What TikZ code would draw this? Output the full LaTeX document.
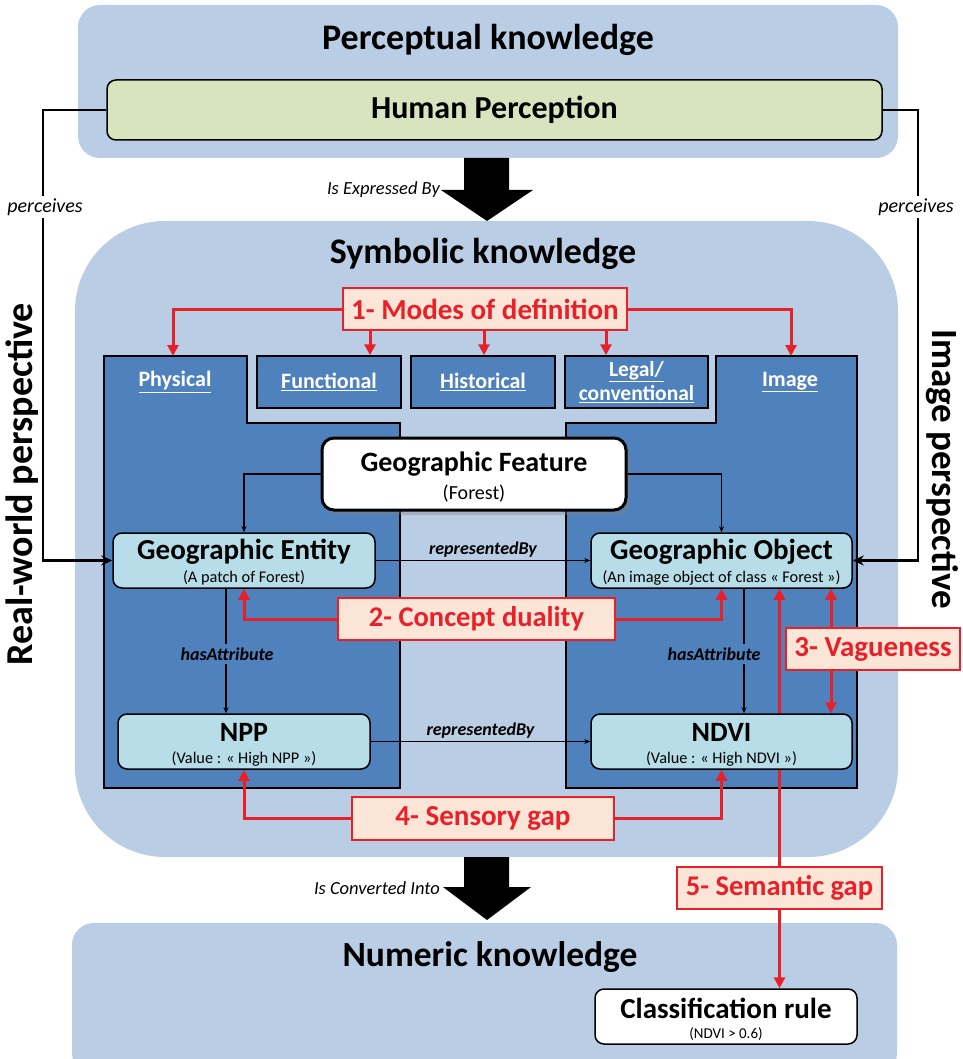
\documentclass[tikz,border=0pt]{standalone}
\usepackage{fontspec}
\setmainfont{Carlito}
\usetikzlibrary{arrows.meta,shadows,calc}
\definecolor{panel}{HTML}{B9CDE5}
\definecolor{colblue}{HTML}{4F81BD}
\definecolor{lcyan}{HTML}{B7DEE8}
\definecolor{lgreen}{HTML}{D7E4BD}
\definecolor{peach}{HTML}{FBE5D6}
\definecolor{myred}{HTML}{E8202A}
\newcommand\fsz[2]{\fontsize{#1}{#2}\selectfont}
\begin{document}
\begin{tikzpicture}[x=1pt,y=-1pt,
 col/.style={fill=colblue, draw=black, line width=1.5pt},
 cat/.style={font=\fsz{22}{25}\bfseries, text=white, align=center, inner sep=1pt},
 ent/.style={draw=black, line width=1.5pt, fill=lcyan, rounded corners=9pt, inner sep=0pt},
 wbox/.style={draw=black, line width=1.5pt, fill=white, rounded corners=9pt, inner sep=0pt},
 big/.style={font=\fsz{29}{32}\bfseries, inner sep=0pt},
 small/.style={font=\fsz{16.3}{18}\selectfont, inner sep=0pt},
 redbox/.style={draw=myred, line width=2.5pt, fill=peach, text=myred, font=\fsz{29}{32}\bfseries, inner sep=0pt},
 redarr/.style={draw=myred, line width=3pt, -{Triangle[length=11pt,width=11pt]}},
 thinarr/.style={draw=black, line width=1.2pt, -{Stealth[length=6pt,width=5pt]}},
 perc/.style={draw=black, line width=2.5pt, -{Stealth[length=11pt,width=10pt]}},
 rel/.style={font=\fsz{18}{20}\bfseries\itshape, inner sep=1pt},
 conv/.style={font=\fsz{18.5}{20}\itshape, inner sep=1pt},
 title/.style={font=\fsz{36}{40}\bfseries, inner sep=0pt},
 persp/.style={font=\fsz{38}{42}\bfseries, inner sep=0pt},
 bigarrow/.style={fill=black},
]
\useasboundingbox (0,0) rectangle (962,1059);
\fill[white] (0,0) rectangle (962,1059);

% panels
\fill[panel, rounded corners=22pt] (78,5) rectangle (898,158);
\fill[panel, rounded corners=90pt] (75,221) rectangle (898,857);
\fill[panel, rounded corners=22pt] (72,923) rectangle (897,1075);

\node[title] (tperc) at (488,40) {Perceptual knowledge};
\node[title] (tsym) at (483,254) {Symbolic knowledge};
\node[title, font=\fsz{35.5}{40}\bfseries] (tnum) at (490,957) {Numeric knowledge};

% human perception
\node[draw=black, line width=1.5pt, fill=lgreen, rounded corners=9pt, minimum width=775pt, minimum height=60pt, inner sep=0pt, font=\fsz{32}{36}\bfseries] (hp) at (494.5,110) {Human Perception};

% big arrows
\fill[bigarrow] (464,158) -- (509,158) -- (509,190) -- (533,190) -- (487,221) -- (441,190) -- (464,190) -- cycle;
\fill[bigarrow] (464,857) -- (509,857) -- (509,887) -- (531,887) -- (487,920) -- (443,887) -- (464,887) -- cycle;
\node[conv, anchor=east] (ieb) at (441,190) {Is Expressed By};
\node[conv, anchor=east] (ici) at (441,888) {Is Converted Into};

% perspectives
\node[persp, rotate=90] (rwp) at (22,484) {Real-world perspective};
\node[persp, rotate=-90, font=\fsz{37}{42}\bfseries] (ip) at (942,469) {Image perspective};

% columns
\path[col] (104,356) -- (247,356) -- (247,423) -- (400,423) -- (400,788) -- (104,788) -- cycle;
\path[col] (716,356) -- (857,356) -- (857,788) -- (566,788) -- (566,423) -- (716,423) -- cycle;
\node[col, cat, minimum width=144pt, minimum height=52pt] (fun) at (329,382) {\underline{Functional}};
\node[col, cat, minimum width=144pt, minimum height=52pt] (his) at (483,382) {\underline{Historical}};
\node[col, cat, minimum width=143pt, minimum height=52pt, font=\fsz{21.5}{24}\bfseries] (leg) at (636.5,382) {\underline{Legal/}\\\underline{conventional}};
\node[cat] (phys) at (175,382) {\underline{Physical}};
\node[cat] (img) at (790,382) {\underline{Image}};
\coordinate (physTop) at (173,356);
\coordinate (imgTop) at (791,356);

% modes of definition
\node[redbox, minimum width=284pt, minimum height=42pt] (modes) at (485,309) {1- Modes of definition};
\coordinate (a1) at (370,0);
\coordinate (a2) at (484,0);
\coordinate (a3) at (606,0);
\draw[redarr] (modes.west) -| (physTop);
\draw[redarr] (modes.east) -| (imgTop);
\draw[redarr] (modes.south -| a1) -- (fun.north -| a1);
\draw[redarr] (modes.south -| a2) -- (his.north -| a2);
\draw[redarr] (modes.south -| a3) -- (leg.north -| a3);

% geographic feature
\node[wbox, line width=3pt, rounded corners=12pt, minimum width=304pt, minimum height=72pt, drop shadow={shadow xshift=4pt, shadow yshift=-5pt, opacity=0.35}] (gf) at (474,474) {};
\node[big, font=\fsz{28}{31}\bfseries] (gft) at ($(gf.center)+(0,-10)$) {Geographic Feature};
\node[small, font=\fsz{20}{22}\selectfont] (gfs) at ($(gf.center)+(0,20)$) {(Forest)};

% entities
\node[ent, minimum width=262pt, minimum height=55pt] (ge) at (244,560.5) {};
\node[big] (get) at ($(ge.center)+(0,-9)$) {Geographic Entity};
\node[small] (ges) at ($(ge.center)+(0,17)$) {(A patch of Forest)};

\node[ent, minimum width=261pt, minimum height=55pt] (go) at (721.5,560.5) {};
\node[big] (got) at ($(go.center)+(0,-9)$) {Geographic Object};
\node[small] (gos) at ($(go.center)+(0,17)$) {(An image object of class « Forest »)};

% connectors from feature
\draw[thinarr] (gf.west) -| (ge.north);
\draw[thinarr] (gf.east) -| (go.north);

% perceives
\coordinate (lc) at (43,110);
\coordinate (rc) at (918,110);
\draw[perc] (hp.west) -- (lc) |- (ge.west);
\draw[perc] (hp.east) -- (rc) |- (go.east);
\node[conv, font=\fsz{20}{22}\itshape, fill=white, inner sep=3pt] (pl) at (45,207) {perceives};
\node[conv, font=\fsz{20}{22}\itshape, fill=white, inner sep=3pt] (pr) at (916,207) {perceives};

% semantic gap line (behind NDVI)
\node[redbox, minimum width=205pt, minimum height=42pt, font=\fsz{28.5}{31}\bfseries] (semg) at (779.5,888) {5- Semantic gap};
\draw[redarr] (semg.north) -- (semg.north |- go.south);

% attributes
\node[ent, minimum width=252pt, minimum height=55pt] (npp) at (244,741.5) {};
\node[big, font=\fsz{28}{31}\bfseries] (nppt) at ($(npp.center)+(0,-9)$) {NPP};
\node[small] (npps) at ($(npp.center)+(0,17)$) {(Value : « High NPP »)};

\node[ent, minimum width=261pt, minimum height=55pt] (ndvi) at (721.5,741.5) {};
\node[big, font=\fsz{28}{31}\bfseries] (ndvit) at ($(ndvi.center)+(0,-9)$) {NDVI};
\node[small] (ndvis) at ($(ndvi.center)+(0,17)$) {(Value : « High NDVI »)};

% relations
\draw[thinarr] (ge.east) -- (go.west) node[rel, midway, above=2pt] (rb1) {representedBy};
\draw[thinarr] (npp.east) -- (ndvi.west) node[rel, midway, above=2pt] (rb2) {representedBy};
\coordinate (h1) at (226,0);
\coordinate (h2) at (744,0);
\draw[thinarr] (ge.south -| h1) -- (npp.north -| h1);
\draw[thinarr] (go.south -| h2) -- (ndvi.north -| h2);
\node[rel, fill=colblue, inner sep=4pt] (ha1) at (227,654) {hasAttribute};
\node[rel, fill=colblue, inner sep=4pt] (ha2) at (714,654) {hasAttribute};

% concept duality
\node[redbox, minimum width=277pt, minimum height=42pt, font=\fsz{28.5}{31}\bfseries] (cd) at (476.5,619) {2- Concept duality};
\draw[redarr] (cd.west) -| (ge.south);
\draw[redarr] (cd.east) -| (go.south);

% vagueness
\node[redbox, minimum width=174pt, minimum height=42pt] (vag) at (873,649) {3- Vagueness};
\coordinate (vx) at (831,0);
\draw[redarr] (vag.north -| vx) -- (go.south -| vx);
\draw[redarr] (vag.south -| vx) -- (ndvi.north -| vx);

% sensory gap
\node[redbox, minimum width=262pt, minimum height=43pt] (sg) at (483,818.5) {4- Sensory gap};
\draw[redarr] (sg.west) -| (npp.south);
\draw[redarr] (sg.east) -| (ndvi.south);

% semantic gap continuation
\draw[draw=myred, line width=3pt] (ndvi.south -| semg.north) -- (semg.north);

% classification rule
\node[wbox, minimum width=262pt, minimum height=55pt] (cr) at (726,1016.5) {};
\node[big] (crt) at ($(cr.center)+(0,-8)$) {Classification rule};
\node[small, font=\fsz{15}{17}\selectfont] (crs) at ($(cr.center)+(0,18)$) {(NDVI > 0.6)};
\draw[redarr] (semg.south) -- (semg.south |- cr.north);
\end{tikzpicture}
\end{document}
